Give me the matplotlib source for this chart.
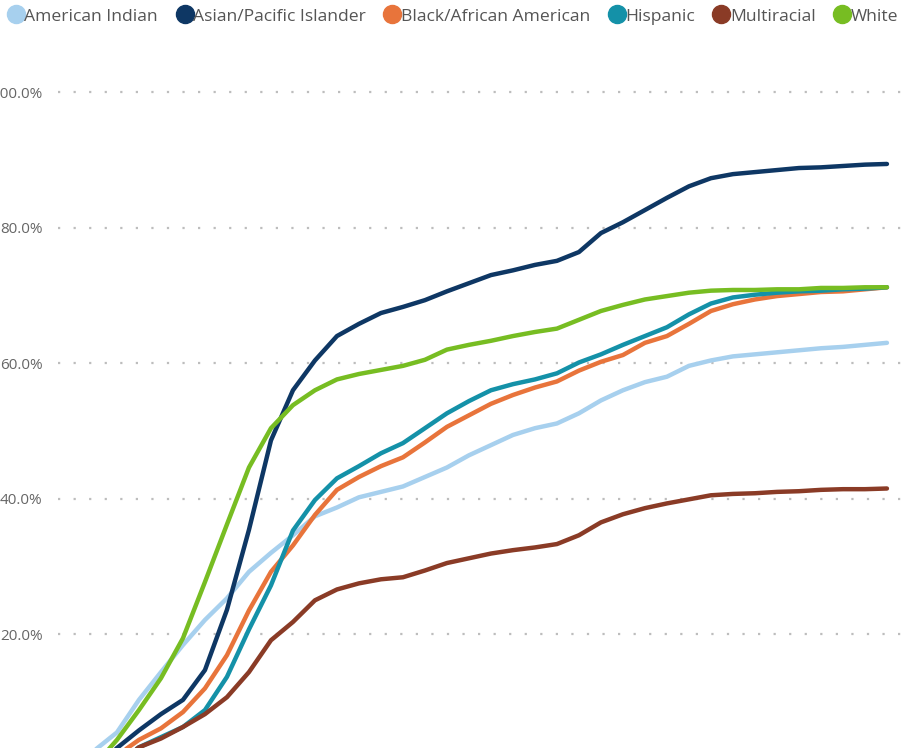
import numpy as np
import matplotlib
matplotlib.use("Agg")
import matplotlib.pyplot as plt
from matplotlib.lines import Line2D

# donnees (pourcentage cumule)
periods = np.arange(37)

american_indian = [2.9, 5.5, 10.3, 14.4, 18.4, 22.1, 25.3, 29.2, 32.0, 34.6, 37.4, 38.7,
                   40.2, 41.0, 41.8, 43.2, 44.6, 46.4, 47.9, 49.4, 50.4, 51.1, 52.6, 54.5,
                   56.0, 57.2, 58.0, 59.6, 60.4, 61.0, 61.3, 61.6, 61.9, 62.2, 62.4, 62.7, 63.0]
asian_pacific = [0.0, 3.2, 5.8, 8.2, 10.3, 14.7, 23.6, 35.4, 48.6, 56.0, 60.4, 64.0,
                 65.8, 67.4, 68.3, 69.3, 70.6, 71.8, 73.0, 73.7, 74.5, 75.1, 76.4, 79.2,
                 80.8, 82.6, 84.4, 86.1, 87.3, 87.9, 88.2, 88.5, 88.8, 88.9, 89.1, 89.3, 89.4]
black_african = [0.0, 2.1, 4.4, 6.1, 8.5, 12.0, 16.9, 23.5, 29.2, 33.1, 37.6, 41.3,
                 43.2, 44.8, 46.1, 48.3, 50.6, 52.3, 54.0, 55.3, 56.4, 57.3, 58.9, 60.2,
                 61.2, 63.0, 64.0, 65.8, 67.7, 68.7, 69.4, 69.9, 70.2, 70.5, 70.6, 70.9, 71.2]
hispanic = [0.0, 1.0, 3.3, 4.8, 6.3, 8.8, 13.7, 20.7, 27.2, 35.3, 39.8, 43.0,
            44.8, 46.7, 48.2, 50.4, 52.6, 54.4, 56.0, 56.9, 57.6, 58.5, 60.1, 61.3,
            62.7, 64.0, 65.3, 67.2, 68.8, 69.7, 70.1, 70.4, 70.6, 70.7, 70.9, 71.0, 71.2]
multiracial = [0.0, 0.8, 3.3, 4.6, 6.3, 8.2, 10.7, 14.4, 19.1, 21.8, 25.0, 26.6,
               27.5, 28.1, 28.4, 29.4, 30.5, 31.2, 31.9, 32.4, 32.8, 33.3, 34.6, 36.5,
               37.7, 38.6, 39.3, 39.9, 40.5, 40.7, 40.8, 41.0, 41.1, 41.3, 41.4, 41.4, 41.5]
white = [0.7, 4.4, 8.8, 13.5, 19.4, 27.7, 36.2, 44.6, 50.4, 53.8, 56.0, 57.6,
         58.4, 59.0, 59.6, 60.5, 62.0, 62.7, 63.3, 64.0, 64.6, 65.1, 66.4, 67.7,
         68.6, 69.4, 69.9, 70.4, 70.7, 70.8, 70.8, 70.9, 70.9, 71.1, 71.1, 71.2, 71.2]

labels = ["American Indian", "Asian/Pacific Islander", "Black/African American",
          "Hispanic", "Multiracial", "White"]
colors = ["#A7D0EE", "#0E3764", "#E8743B", "#1491A8", "#8A3B26", "#77BD22"]
series = [american_indian, asian_pacific, black_african, hispanic, multiracial, white]
y_ticks = [20, 40, 60, 80, 100]

plt.rcParams["font.family"] = ["Open Sans", "DejaVu Sans"]

fig = plt.figure(figsize=(9.03, 7.48), dpi=100)
ax = fig.add_axes([58 / 903, 0, 1 - 58 / 903, 1])

for vals, col in zip(series, colors):
    ax.plot(periods, vals, color=col, lw=3.2, solid_capstyle="round", zorder=3)

ax.set_xlim(-1.68, 36.73)
ax.set_ylim(3.2, 113.6)
ax.set_yticks(y_ticks)
# le "1" de 100.0% est coupe au bord comme sur l'original
ax.set_yticklabels([f"{v:.1f}%" for v in y_ticks], color="#666666", fontsize=11)
ax.tick_params(axis="y", length=0, pad=11)
ax.set_xticks([])
ax.grid(axis="y", color="#bdbdbd", linestyle=(0, (1, 6)), lw=1.6)
for s in ax.spines.values():
    s.set_visible(False)

handles = [Line2D([], [], marker="o", linestyle="none", markersize=13,
                  markerfacecolor=c, markeredgecolor=c) for c in colors]
fig.legend(handles, labels, loc="upper left", bbox_to_anchor=(-0.007, 1.01), ncol=6,
           frameon=False, fontsize=12.6, handlelength=0.75, handletextpad=0.1,
           columnspacing=1.15, labelcolor="#555555")

plt.savefig("out.png", dpi=100)
plt.close()
